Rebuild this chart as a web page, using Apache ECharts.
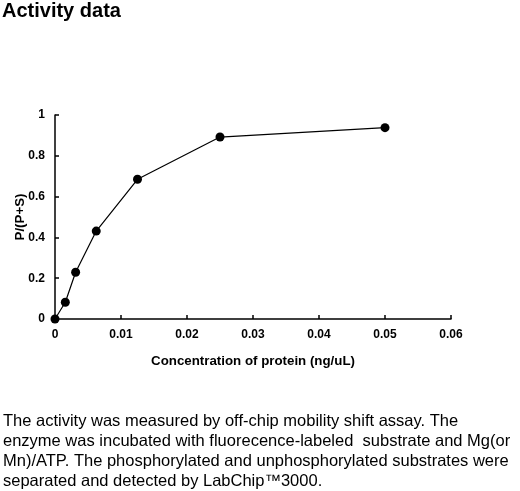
<!DOCTYPE html>
<html>
<head>
<meta charset="utf-8">
<title>Activity data</title>
<script src="https://cdn.jsdelivr.net/npm/echarts@6/dist/echarts.min.js"></script>
<style>
    html, body { margin: 0; padding: 0; background: #fff; }
    #chart { width: 520px; height: 491px; }
</style>
</head>
<body>
<div id="chart"></div>
<script>
// ==========================================
// 데이터
// ==========================================
const concentrations = [0, 0.0015625, 0.003125, 0.00625, 0.0125, 0.025, 0.05];
const ratios = [0, 0.082, 0.229, 0.431, 0.685, 0.892, 0.938];
const xTicks = [0, 0.01, 0.02, 0.03, 0.04, 0.05, 0.06];
const yTicks = [0, 0.2, 0.4, 0.6, 0.8, 1];

const titleText = 'Activity data';
const xName = 'Concentration of protein (ng/uL)';
const yName = 'P/(P+S)';
const noteLines = [
    'The activity was measured by off-chip mobility shift assay. The',
    'enzyme was incubated with fluorecence-labeled  substrate and Mg(or',
    'Mn)/ATP. The phosphorylated and unphosphorylated substrates were',
    'separated and detected by LabChip\u21223000.'
];

const FONT = '"Liberation Sans", Arial, sans-serif';

// ==========================================
// 차트
// ==========================================
const chart = echarts.init(document.getElementById('chart'));

const axisCommon = {
    axisLine: { show: true, lineStyle: { color: '#000', width: 1.5 } },
    axisTick: { show: true, inside: true, length: 4, lineStyle: { color: '#000', width: 1.5 } },
    splitLine: { show: false },
    axisLabel: { color: '#000', fontFamily: FONT, fontWeight: 'bold', fontSize: 12, margin: 10 },
    nameTextStyle: { color: '#000', fontFamily: FONT, fontWeight: 'bold', fontSize: 13.3 }
};

chart.setOption({
    animation: false,
    title: {
        text: titleText,
        left: 2,
        top: 1,
        padding: 0,
        textStyle: { fontFamily: FONT, fontWeight: 'bold', fontSize: 20, color: '#000' }
    },
    grid: {
        left: 55, right: 69, top: 115, bottom: 172,
        containLabel: false,
        outerBoundsMode: 'none'
    },
    xAxis: Object.assign({}, axisCommon, {
        type: 'value',
        min: xTicks[0],
        max: xTicks[xTicks.length - 1],
        interval: 0.01,
        name: xName,
        nameLocation: 'middle',
        nameGap: 36,
        axisLabel: Object.assign({}, axisCommon.axisLabel, {
            formatter: v => String(+v.toFixed(2))
        })
    }),
    yAxis: Object.assign({}, axisCommon, {
        type: 'value',
        min: yTicks[0],
        max: yTicks[yTicks.length - 1],
        interval: 0.2,
        name: yName,
        nameLocation: 'middle',
        nameGap: 28,
        nameRotate: 90,
        nameMoveOverlap: false,
        axisLabel: Object.assign({}, axisCommon.axisLabel, {
            formatter: v => String(+v.toFixed(1))
        })
    }),
    series: [{
        type: 'line',
        data: concentrations.map((c, i) => [c, ratios[i]]),
        symbol: 'circle',
        symbolSize: 9,
        lineStyle: { color: '#000', width: 1.2 },
        itemStyle: { color: '#000' },
        z: 3
    }],
    graphic: [{
        type: 'text',
        left: 3,
        top: 411,
        style: {
            text: noteLines.join('\n'),
            font: '16.5px ' + FONT,
            lineHeight: 20,
            fill: '#000'
        }
    }]
});
</script>
</body>
</html>
